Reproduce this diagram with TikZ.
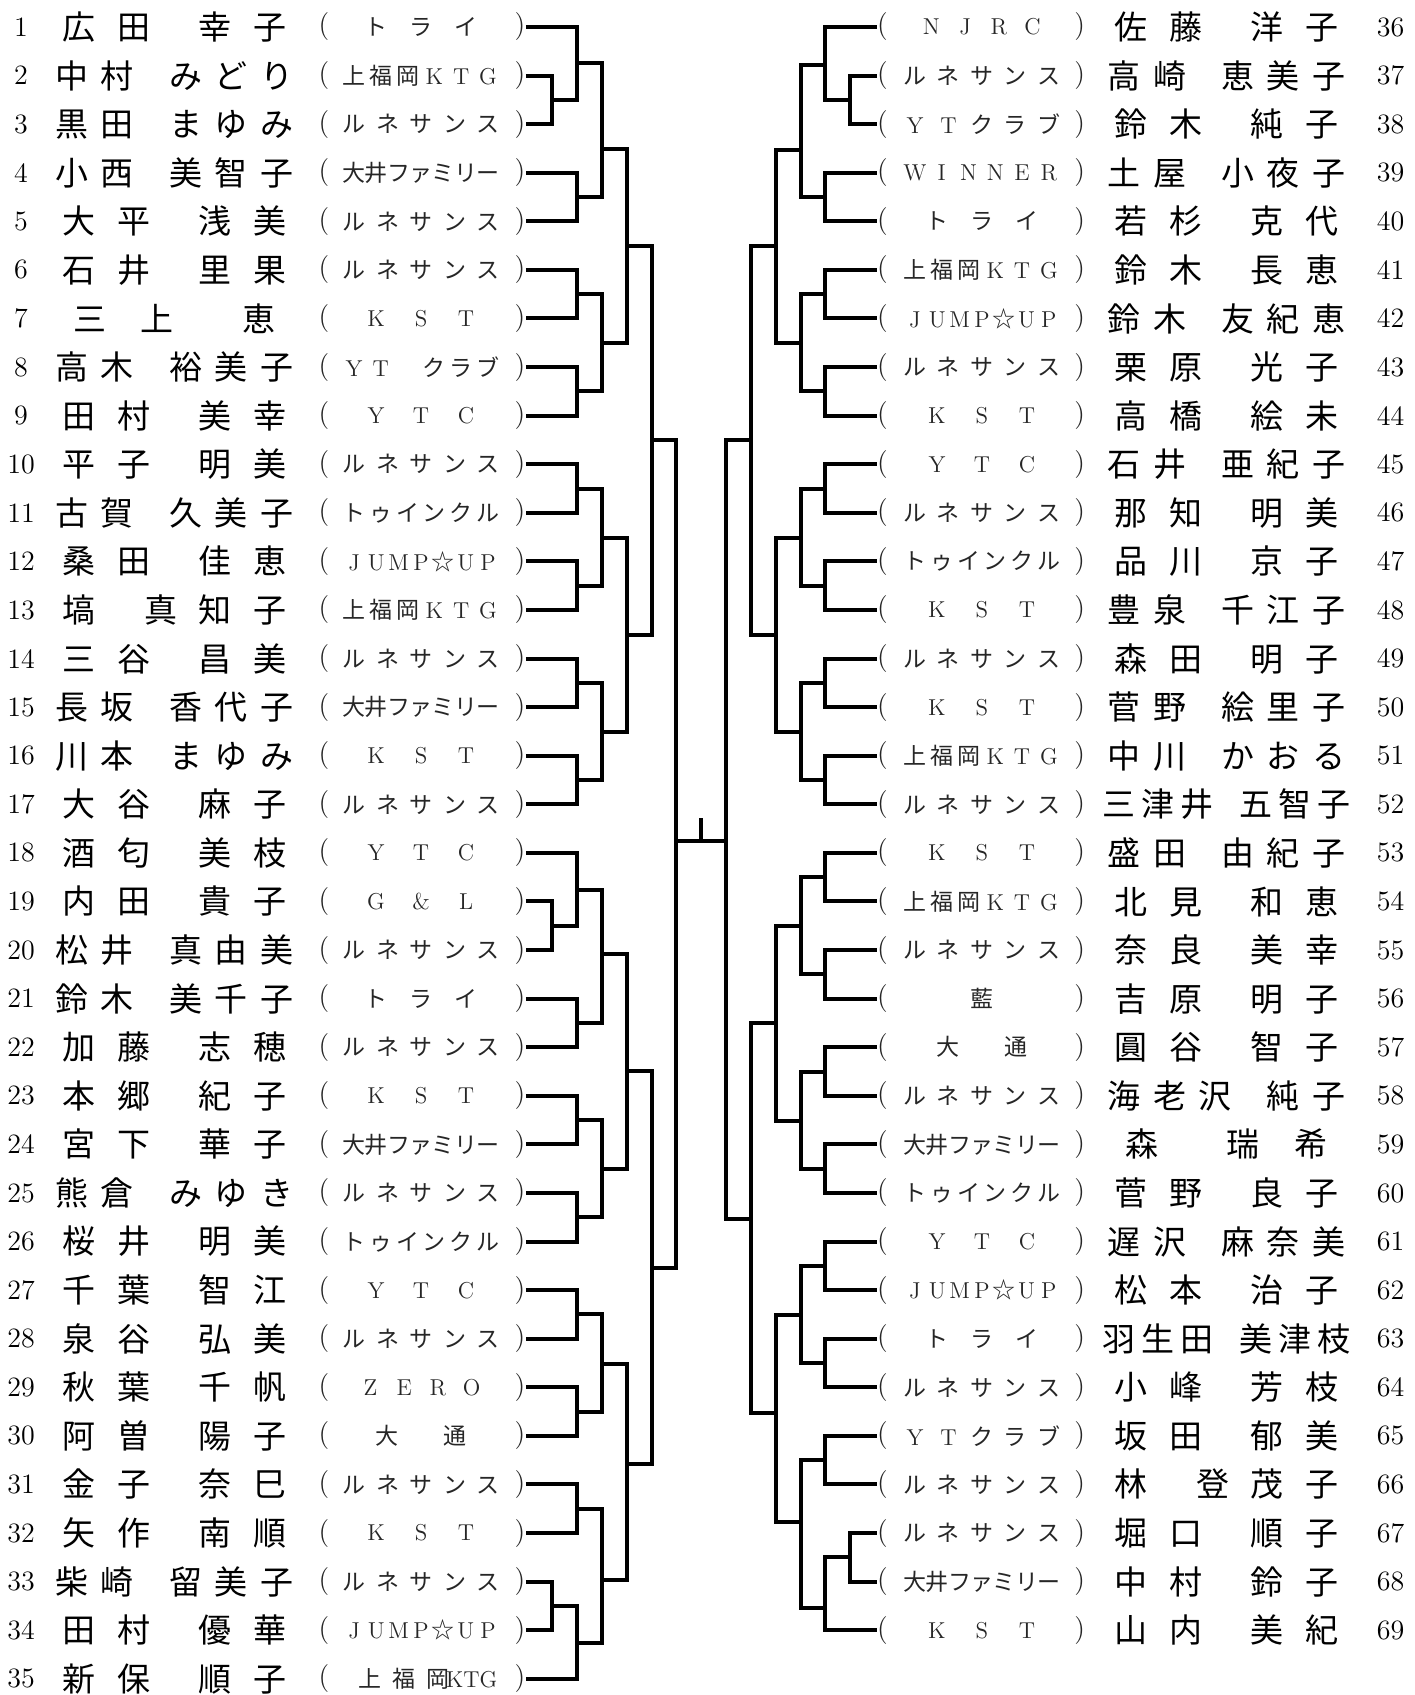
\documentclass[tikz,border=0pt]{standalone}
\usepackage{fontspec}
\usepackage{tikz}
\newfontfamily\jp{Noto Sans CJK JP}

\tikzstyle{seed} = [inner sep=0pt, font=\fontsize{14}{14}\selectfont]
\tikzstyle{player} = [inner sep=0pt, font=\jp\fontsize{16.5}{16.5}\selectfont]
\tikzstyle{club} = [inner sep=0pt, text=black!85, font=\fontsize{11.5}{11.5}\selectfont]
\tikzstyle{paren} = [inner sep=0pt, text=black!85, font=\fontsize{14}{14}\selectfont]
\tikzstyle{wire} = [line width=2pt]

\newcount\charcount
\def\countchars#1{\charcount=0 \expandafter\countloop#1\relax}
\def\countloop#1{\ifx\relax#1\else\advance\charcount by 1 \expandafter\countloop\fi}
\def\pickfont#1#2\endpick{\if\relax\detokenize{#2}\relax\iffontchar\font`#1 #1\else{\jp#1}\fi\else#1#2\fi}
\def\spreadchars#1{\expandafter\spreadloop#1\relax}
\def\spreadloop#1#2{\makebox[0pt]{\pickfont#1\endpick}\ifx\relax#2\else\hfil\expandafter\spreadloop\fi{#2}}
\newcommand\fullname[2]{\hbox to 138.8pt{\hskip 0pt plus .8fil\relax\spreadchars{#1}\hskip 0pt plus 1.5fil\relax\spreadchars{#2}\hskip 0pt plus .8fil\relax}}
\newcommand\clubname[1]{\countchars{#1}\ifnum\charcount<5 \hbox to 67.5pt{\hskip 0pt plus .5fil\relax\spreadchars{#1}\hskip 0pt plus .5fil\relax}\else\hbox to 67pt{\spreadchars{#1}}\fi}
\newcommand\tieL[5]{\draw[wire] (#1) -| ({488.5+23*#3},#4) |- (#2); \coordinate (#5) at ({488.5+23*#3},#4);}
\newcommand\tieR[5]{\draw[wire] (#1) -| ({810.5-23*#3},#4) |- (#2); \coordinate (#5) at ({810.5-23*#3},#4);}

\begin{document}
\begin{tikzpicture}[x=0.54pt, y=-0.54pt]
	\useasboundingbox (0,0) rectangle (1310,1570);
	\foreach \n/\fam/\giv/\cl in {1/広田/幸子/トライ, 2/中村/みどり/上福岡KTG, 3/黒田/まゆみ/ルネサンス,
		4/小西/美智子/大井ファミリー, 5/大平/浅美/ルネサンス, 6/石井/里果/ルネサンス, 7/三上/恵/KST,
		8/高木/裕美子/YT　クラブ, 9/田村/美幸/YTC, 10/平子/明美/ルネサンス, 11/古賀/久美子/トゥインクル,
		12/桑田/佳恵/JUMP☆UP, 13/塙/真知子/上福岡KTG, 14/三谷/昌美/ルネサンス, 15/長坂/香代子/大井ファミリー,
		16/川本/まゆみ/KST, 17/大谷/麻子/ルネサンス, 18/酒匂/美枝/YTC, 19/内田/貴子/G\&L,
		20/松井/真由美/ルネサンス, 21/鈴木/美千子/トライ, 22/加藤/志穂/ルネサンス, 23/本郷/紀子/KST,
		24/宮下/華子/大井ファミリー, 25/熊倉/みゆき/ルネサンス, 26/桜井/明美/トゥインクル, 27/千葉/智江/YTC,
		28/泉谷/弘美/ルネサンス, 29/秋葉/千帆/ZERO, 30/阿曽/陽子/大通, 31/金子/奈巳/ルネサンス,
		32/矢作/南順/KST, 33/柴崎/留美子/ルネサンス, 34/田村/優華/JUMP☆UP, 35/新保/順子/上福岡{KTG}}
	{
		\pgfmathsetmacro\rowy{25+45*(\n-1)}
		\node[seed] (SEED_\n) at (19.5,\rowy) {\n};
		\node[player] (NAME_\n) at (161.5,\rowy) {\fullname{\fam}{\giv}};
		\node[paren] (OPEN_\n) at (300,\rowy) {(};
		\node[club] (CLUB_\n) at (390,\rowy) {\clubname{\cl}};
		\node[paren, anchor=east] (CLOSE_\n) at (487,\rowy) {)};
	}
	\foreach \n/\fam/\giv/\cl in {36/佐藤/洋子/NJRC, 37/高崎/恵美子/ルネサンス, 38/鈴木/純子/YTクラブ,
		39/土屋/小夜子/WINNER, 40/若杉/克代/トライ, 41/鈴木/長恵/上福岡KTG, 42/鈴木/友紀恵/JUMP☆UP,
		43/栗原/光子/ルネサンス, 44/高橋/絵未/KST, 45/石井/亜紀子/YTC, 46/那知/明美/ルネサンス,
		47/品川/京子/トゥインクル, 48/豊泉/千江子/KST, 49/森田/明子/ルネサンス, 50/菅野/絵里子/KST,
		51/中川/かおる/上福岡KTG, 52/三津井/五智子/ルネサンス, 53/盛田/由紀子/KST, 54/北見/和恵/上福岡KTG,
		55/奈良/美幸/ルネサンス, 56/吉原/明子/藍, 57/圓谷/智子/大通, 58/海老沢/純子/ルネサンス,
		59/森/瑞希/大井ファミリー, 60/菅野/良子/トゥインクル, 61/遅沢/麻奈美/YTC, 62/松本/治子/JUMP☆UP,
		63/羽生田/美津枝/トライ, 64/小峰/芳枝/ルネサンス, 65/坂田/郁美/YTクラブ, 66/林/登茂子/ルネサンス,
		67/堀口/順子/ルネサンス, 68/中村/鈴子/大井ファミリー, 69/山内/美紀/KST}
	{
		\pgfmathsetmacro\rowy{25+45*(\n-36)}
		\node[paren, anchor=west] (OPEN_\n) at (812,\rowy) {(};
		\node[club] (CLUB_\n) at (909.5,\rowy) {\clubname{\cl}};
		\node[paren] (CLOSE_\n) at (1000,\rowy) {)};
		\node[player] (NAME_\n) at (1136,\rowy) {\fullname{\fam}{\giv}};
		\node[seed] (SEED_\n) at (1288,\rowy) {\n};
	}
	\foreach \a/\b/\k/\y/\c in {CLOSE_2.east/CLOSE_3.east/1/92.5/L2_3, CLOSE_1.east/L2_3/2/58.6/L1_3,
		CLOSE_4.east/CLOSE_5.east/2/182.5/L4_5, L1_3/L4_5/3/138/L1_5,
		CLOSE_6.east/CLOSE_7.east/2/272.5/L6_7, CLOSE_8.east/CLOSE_9.east/2/362.5/L8_9,
		L6_7/L8_9/3/318/L6_9, L1_5/L6_9/4/228/L1_9,
		CLOSE_10.east/CLOSE_11.east/2/452.5/L10_11, CLOSE_12.east/CLOSE_13.east/2/542.5/L12_13,
		L10_11/L12_13/3/498/L10_13, CLOSE_14.east/CLOSE_15.east/2/632.5/L14_15,
		CLOSE_16.east/CLOSE_17.east/2/722.5/L16_17, L14_15/L16_17/3/678/L14_17,
		L10_13/L14_17/4/588/L10_17, L1_9/L10_17/5/408/L1_17,
		CLOSE_19.east/CLOSE_20.east/1/857.5/L19_20, CLOSE_18.east/L19_20/2/824/L18_20,
		CLOSE_21.east/CLOSE_22.east/2/947.5/L21_22, L18_20/L21_22/3/884/L18_22,
		CLOSE_23.east/CLOSE_24.east/2/1037.5/L23_24, CLOSE_25.east/CLOSE_26.east/2/1127.5/L25_26,
		L23_24/L25_26/3/1083/L23_26, L18_22/L23_26/4/992/L18_26,
		CLOSE_27.east/CLOSE_28.east/2/1217.5/L27_28, CLOSE_29.east/CLOSE_30.east/2/1307.5/L29_30,
		L27_28/L29_30/3/1263/L27_30, CLOSE_31.east/CLOSE_32.east/2/1397.5/L31_32,
		CLOSE_33.east/CLOSE_34.east/1/1487.5/L33_34, L33_34/CLOSE_35.east/2/1522/L33_35,
		L31_32/L33_35/3/1463/L31_35, L27_30/L31_35/4/1356/L27_35,
		L18_26/L27_35/5/1174.5/L18_35, L1_17/L18_35/6/779.4/LEFT_FINAL}
		{\tieL{\a}{\b}{\k}{\y}{\c}}
	\foreach \a/\b/\k/\y/\c in {OPEN_37.west/OPEN_38.west/1/92.5/R37_38, OPEN_36.west/R37_38/2/60/R36_38,
		OPEN_39.west/OPEN_40.west/2/182.5/R39_40, R36_38/R39_40/3/138.5/R36_40,
		OPEN_41.west/OPEN_42.west/2/272.5/R41_42, OPEN_43.west/OPEN_44.west/2/362.5/R43_44,
		R41_42/R43_44/3/318/R41_44, R36_40/R41_44/4/228/R36_44,
		OPEN_45.west/OPEN_46.west/2/452.5/R45_46, OPEN_47.west/OPEN_48.west/2/542.5/R47_48,
		R45_46/R47_48/3/498/R45_48, OPEN_49.west/OPEN_50.west/2/632.5/R49_50,
		OPEN_51.west/OPEN_52.west/2/722.5/R51_52, R49_50/R51_52/3/678/R49_52,
		R45_48/R49_52/4/588/R45_52, R36_44/R45_52/5/408/R36_52,
		OPEN_53.west/OPEN_54.west/2/812.5/R53_54, OPEN_55.west/OPEN_56.west/2/902.5/R55_56,
		R53_54/R55_56/3/858/R53_56, OPEN_57.west/OPEN_58.west/2/992.5/R57_58,
		OPEN_59.west/OPEN_60.west/2/1082.5/R59_60, R57_58/R59_60/3/1038/R57_60,
		R53_56/R57_60/4/948/R53_60,
		OPEN_61.west/OPEN_62.west/2/1172.5/R61_62, OPEN_63.west/OPEN_64.west/2/1262.5/R63_64,
		R61_62/R63_64/3/1218/R61_64, OPEN_65.west/OPEN_66.west/2/1352.5/R65_66,
		OPEN_67.west/OPEN_68.west/1/1442.5/R67_68, R67_68/OPEN_69.west/2/1489/R67_69,
		R65_66/R67_69/3/1410/R65_69, R61_64/R65_69/4/1309/R61_69,
		R53_60/R61_69/5/1129/R53_69, R36_52/R53_69/6/779.4/RIGHT_FINAL}
		{\tieR{\a}{\b}{\k}{\y}{\c}}
	\coordinate (CHAMP) at (649.5,758);
	\draw[wire] (LEFT_FINAL) -- (RIGHT_FINAL);
	\draw[wire] (CHAMP) -- (CHAMP |- LEFT_FINAL);
\end{tikzpicture}
\end{document}
